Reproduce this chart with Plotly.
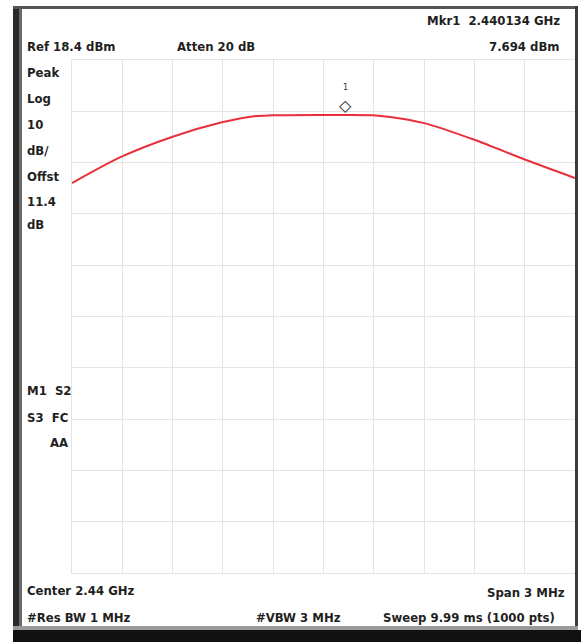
import plotly.graph_objects as go

# ---- data ----
freq_ghz = [2.4385, 2.438792, 2.439096, 2.4394, 2.439586, 2.439693, 2.439997,
            2.440134, 2.440295, 2.440397, 2.4406, 2.440904, 2.441208, 2.4415]
level_dbm = [-5.6, -0.5, 3.4, 6.3, 7.45, 7.62, 7.69,
             7.694, 7.64, 7.3, 6.1, 2.8, -1.1, -4.6]
marker_freq = 2.440134
marker_level = 7.694

center_ghz = 2.44
span_ghz = 0.003
ref_level = 18.4
db_per_div = 10

W, H = 581, 642
def px(x): return x / W
def py(y): return 1 - y / H

FONT = "DejaVu Sans Condensed, Liberation Sans, sans-serif"
TXT = "#1f1f1f"

fig = go.Figure()
fig.add_trace(go.Scatter(x=freq_ghz, y=level_dbm, mode="lines",
                         line=dict(color="#e9303a", width=2, shape="spline", smoothing=0.8),
                         hoverinfo="skip", showlegend=False))

x0 = center_ghz - span_ghz / 2
x1 = center_ghz + span_ghz / 2
y1 = ref_level
y0 = ref_level - 10 * db_per_div

fig.update_layout(
    width=W, height=H, margin=dict(l=0, r=0, t=0, b=0),
    paper_bgcolor="white", plot_bgcolor="white",
    xaxis=dict(domain=[px(72), px(575)], range=[x0, x1], tick0=x0, dtick=span_ghz / 10,
               showticklabels=False, ticks="", showgrid=True, gridcolor="#e4e4e4", gridwidth=1,
               zeroline=False, showline=True, linecolor="#e4e4e4", mirror=True),
    yaxis=dict(domain=[py(573), py(60)], range=[y0, y1], tick0=y0, dtick=db_per_div,
               showticklabels=False, ticks="", showgrid=True, gridcolor="#e4e4e4", gridwidth=1,
               zeroline=False, showline=True, linecolor="#e4e4e4", mirror=True),
)

def txt(x, y, s, anchor="left", size=13):
    fig.add_annotation(x=px(x), y=py(y), xref="paper", yref="paper", text=s,
                       showarrow=False, xanchor=anchor, yanchor="middle",
                       font=dict(family=FONT, size=size, color=TXT))

txt(25, 46, "<b>Ref 18.4 dBm</b>")
txt(175, 46, "<b>Atten 20 dB</b>")
txt(562, 20, "<b>Mkr1  2.440134 GHz</b>", "right")
txt(562, 46, "<b>7.694 dBm</b>", "right")
for yy, s in [(72, "Peak"), (99, "Log"), (124, "10"), (150, "dB/"), (176, "Offst"),
              (202, "11.4"), (224, "dB")]:
    txt(25, yy, f"<b>{s}</b>")
txt(25, 390, "<b>M1  S2</b>")
txt(25, 417, "<b>S3  FC</b>")
txt(70, 442, "<b>AA</b>", "right")
txt(25, 590, "<b>Center 2.44 GHz</b>")
txt(25, 617, "<b>#Res BW 1 MHz</b>")
txt(254, 617, "<b>#VBW 3 MHz</b>")
txt(567, 592, "<b>Span 3 MHz</b>", "right")
txt(381, 617, "<b>Sweep 9.99 ms (1000 pts)</b>")

# marker glyph and label
fig.add_annotation(x=marker_freq, y=marker_level, text="<b>◇</b>", showarrow=False,
                   yshift=9, font=dict(family="DejaVu Sans", size=16, color="#2a2a2a"))
fig.add_annotation(x=marker_freq, y=marker_level, text="1", showarrow=False,
                   yshift=27, font=dict(family="DejaVu Sans", size=8, color="#333"))

# instrument frame
def rect(xa, ya, xb, yb, color):
    fig.add_shape(type="rect", xref="paper", yref="paper", x0=px(xa), x1=px(xb),
                  y0=py(yb), y1=py(ya), fillcolor=color, line=dict(width=0), layer="above")

rect(13, 6, 19, 631, "#2a2a2a")
rect(19, 6, 22, 631, "#6a6a6a")
rect(13, 6, 578, 9, "#555555")
rect(575, 6, 578, 631, "#3c3c3c")
rect(13, 626, 578, 630, "#9a9a9a")
rect(13, 630, 581, 642, "#111111")

fig.write_html("out.html", config={"displayModeBar": False},
               post_script="document.body.style.margin='0';")
